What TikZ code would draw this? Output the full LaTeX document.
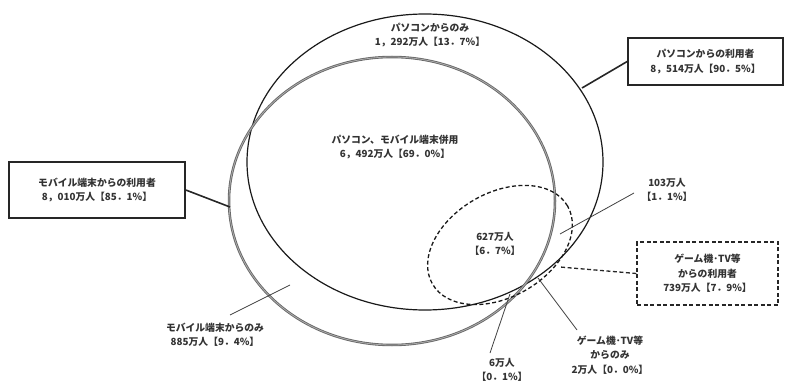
\documentclass[tikz,border=0pt]{standalone}
\usepackage{fontspec}
\setmainfont{Noto Sans CJK JP}
\begin{document}
\begin{tikzpicture}[x=1pt,y=1pt,
  txt/.style={align=center,font=\fontsize{9.8}{14.5}\selectfont\bfseries,text=black!80},
  lbl/.style={txt,inner sep=1pt},
  boxA/.style={txt,draw=black!85,line width=1.6pt,inner sep=0pt},
  boxD/.style={txt,draw=black!85,line width=1.3pt,dash pattern=on 4pt off 2.5pt,inner sep=0pt},
  pcline/.style={draw=black!90,line width=1.2pt},
  moline/.style={draw=black!60,line width=0.85pt,double=gray!65,double distance=0.8pt},
  gmline/.style={draw=black!90,line width=1.3pt,dash pattern=on 4pt off 2.5pt},
  thickcon/.style={draw=black!85,line width=1.6pt},
  dashcon/.style={draw=black!85,line width=1.3pt,dash pattern=on 4pt off 2.5pt},
  leader/.style={draw=black!75,line width=0.8pt}]
\useasboundingbox (0,0) rectangle (785,381);
% ellipses
\draw[pcline] (425,219) ellipse [x radius=178pt, y radius=148pt];
\draw[moline] (392,180) ellipse [x radius=163pt, y radius=144pt];
\draw[gmline, rotate around={30:(500,136)}] (500,136) ellipse [x radius=78pt, y radius=52pt];
% labels
\node[lbl] (t1) at (430,346) {パソコンからのみ\\1，292万人【13．7\%】};
\node[lbl] (t2) at (395,234) {パソコン、モバイル端末併用\\6，492万人【69．0\%】};
\node[lbl] (t3) at (495,137) {627万人\\【6．7\%】};
\node[lbl] (t4) at (667,191) {103万人\\【1．1\%】};
\node[lbl] (t5) at (215,46) {モバイル端末からのみ\\885万人【9．4\%】};
\node[lbl] (t6) at (502,11) {6万人\\【0．1\%】};
\node[lbl] (t7) at (610,26) {ゲーム機･TV等\\からのみ\\2万人【0．0\%】};
% boxes
\node[boxA,minimum width=155pt,minimum height=47pt] (pcbox) at (705.5,319.5) {パソコンからの利用者\\8，514万人【90．5\%】};
\node[boxA,minimum width=176pt,minimum height=56pt] (mobox) at (97,191) {モバイル端末からの利用者\\8，010万人【85．1\%】};
\node[boxD,minimum width=141pt,minimum height=63pt] (gmbox) at (707.5,107.5) {ゲーム機･TV等\\からの利用者\\739万人【7．9\%】};
% connector endpoints
\coordinate (pcpt) at (582,293);
\coordinate (mopt) at (230,174);
\coordinate (gmpt) at (560,114);
\coordinate (a4) at (560,147);
\coordinate (b4) at (634,188);
\coordinate (a5) at (290,96);
\coordinate (b5) at (230,66);
\coordinate (a6) at (510,87);
\coordinate (b6) at (490,28);
\coordinate (a7) at (538,103);
\coordinate (b7) at (577,51);
% connectors
\draw[thickcon] (pcbox.west) -- (pcpt);
\draw[thickcon] (mobox.east) -- (mopt);
\draw[dashcon] (gmbox.west) -- (gmpt);
\draw[leader] (a4) -- (b4);
\draw[leader] (a5) -- (b5);
\draw[leader] (a6) -- (b6);
\draw[leader] (a7) -- (b7);
\end{tikzpicture}
\end{document}
